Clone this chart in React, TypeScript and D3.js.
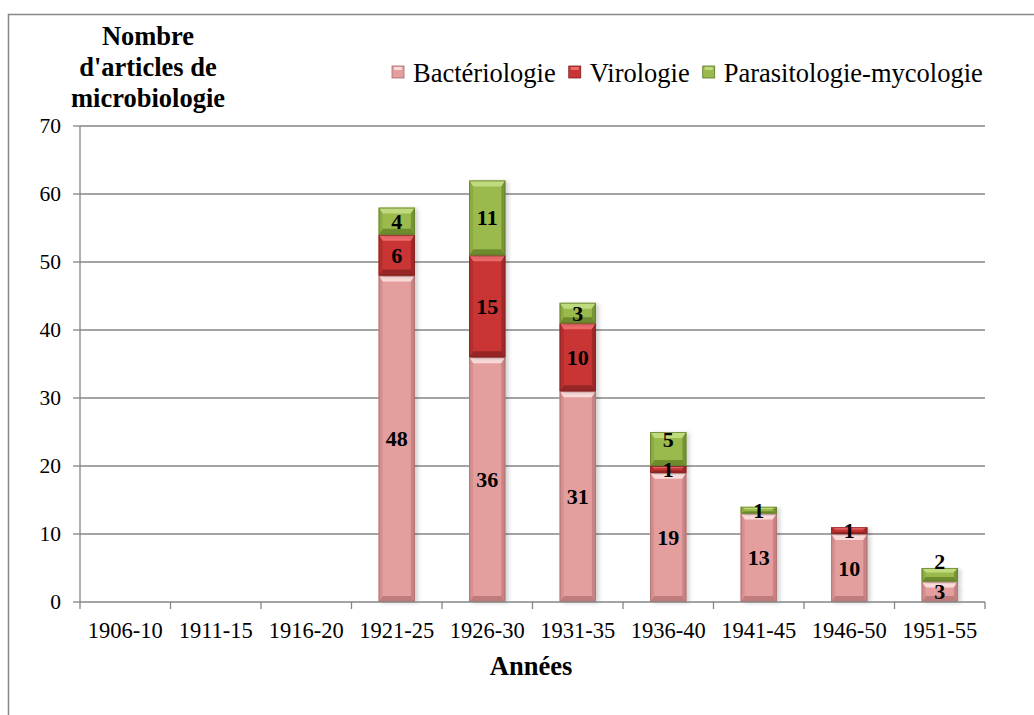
import React from "react";
import * as d3 from "d3";

const categories = ["1906-10", "1911-15", "1916-20", "1921-25", "1926-30", "1931-35", "1936-40", "1941-45", "1946-50", "1951-55"];
const bacteriologie = [0, 0, 0, 48, 36, 31, 19, 13, 10, 3];
const virologie = [0, 0, 0, 6, 15, 10, 1, 0, 1, 0];
const parasitologie = [0, 0, 0, 4, 11, 3, 5, 1, 0, 2];
const seriesNames = ["Bactériologie", "Virologie", "Parasitologie-mycologie"];
const yTicks = [0, 10, 20, 30, 40, 50, 60, 70];
const titleLines = ["Nombre", "d'articles de", "microbiologie"];

const W = 1034;
const H = 715;
const left = 80;
const right = 985;
const top = 126;
const bottom = 602;
const FONT = "Liberation Serif, DejaVu Serif, Times New Roman, serif";

const palettes = [
  { base: "#E59E9E", light: "#FBDADA", dark: "#C07C7C", side: "#D48F8F", edge: "#A86A6A" },
  { base: "#C93535", light: "#EC6A6A", dark: "#962626", side: "#B52E2E", edge: "#7E1F1F" },
  { base: "#9BBA4E", light: "#C0DA7E", dark: "#6E8C2E", side: "#8DAB44", edge: "#5D7726" },
];

function measure(text: string, font: string): number {
  const c = document.createElement("canvas").getContext("2d");
  if (!c) return text.length * 12;
  c.font = font;
  return c.measureText(text).width;
}

const txt = (extra: React.CSSProperties = {}): React.CSSProperties => ({ fontFamily: FONT, ...extra });

export default function App() {
  const x = d3.scaleBand<string>().domain(categories).range([left, right]).paddingInner(0.6).paddingOuter(0.3);
  const y = d3.scaleLinear().domain([0, 70]).range([bottom, top]);
  const step = (right - left) / categories.length;

  const rows = categories.map((c, i) => ({
    cat: c,
    b: bacteriologie[i],
    v: virologie[i],
    p: parasitologie[i],
  }));
  const stack = d3.stack<any>().keys(["b", "v", "p"])(rows);

  const legendSize = 26.5;
  const legendFont = `${legendSize}px ${FONT}`;
  let lx = 392;
  const legendItems = seriesNames.map((name, i) => {
    const item = { name, x: lx, i };
    lx += 12 + 9 + measure(name, legendFont) + 13;
    return item;
  });

  const labels: { x: number; y: number; text: string }[] = [];
  categories.forEach((c, ci) => {
    let prevY: number | null = null;
    stack.forEach((s) => {
      const d = s[ci];
      const v = d[1] - d[0];
      if (v <= 0) return;
      let cy = (y(d[0]) + y(d[1])) / 2;
      if (prevY !== null && prevY - cy < 30) cy = prevY - 30;
      labels.push({ x: (x(c) as number) + x.bandwidth() / 2, y: cy, text: String(v) });
      prevY = cy;
    });
  });

  const bw = x.bandwidth();

  return (
    <svg width={W} height={H} style={{ position: "absolute", left: 0, top: 0, background: "#fff" }}>
      <defs>
        <filter id="shadow" x="-30%" y="-10%" width="160%" height="120%">
          <feGaussianBlur stdDeviation="2" />
        </filter>
      </defs>
      <rect x={8.5} y={14.5} width={1040} height={720} fill="#fff" stroke="#878787" strokeWidth={1.5} />

      <text style={txt({ fontWeight: "bold", fontSize: 26.5 })} textAnchor="middle" fill="#000">
        {titleLines.map((t, i) => (
          <tspan key={i} x={148} y={45 + i * 31}>{t}</tspan>
        ))}
      </text>

      {legendItems.map((it) => (
        <g key={it.name}>
          <rect x={it.x} y={66} width={12} height={12} fill={palettes[it.i].base} stroke={palettes[it.i].edge} strokeWidth={0.8} />
          <rect x={it.x + 2} y={67} width={8} height={3} fill={palettes[it.i].light} />
          <text x={it.x + 21} y={82} style={txt({ fontSize: legendSize })} fill="#000">{it.name}</text>
        </g>
      ))}

      {yTicks.filter((t) => t > 0).map((t) => (
        <line key={t} x1={left} x2={right} y1={y(t)} y2={y(t)} stroke="#868686" strokeWidth={1.3} />
      ))}

      <line x1={left} x2={left} y1={top} y2={bottom} stroke="#868686" strokeWidth={1.3} />
      {yTicks.map((t) => (
        <g key={t}>
          <line x1={73} x2={left} y1={y(t)} y2={y(t)} stroke="#868686" strokeWidth={1.3} />
          <text x={61} y={y(t) + 7} textAnchor="end" style={txt({ fontSize: 21.5 })} fill="#000">{t}</text>
        </g>
      ))}

      {stack.map((s, si) =>
        s.map((d, ci) => {
          const v = d[1] - d[0];
          if (v <= 0) return null;
          const x0 = x(categories[ci]) as number;
          const y0 = y(d[1]);
          const h = y(d[0]) - y(d[1]);
          const p = palettes[si];
          const bv = Math.min(6, h / 3);
          const sv = Math.min(4, bw / 6);
          return (
            <g key={`${si}-${ci}`}>
              <rect x={x0 + 3} y={y0 + 1} width={bw} height={h} fill="#000" opacity={0.18} filter="url(#shadow)" />
              <rect x={x0} y={y0} width={bw} height={h} fill={p.base} />
              <polygon points={`${x0},${y0} ${x0 + bw},${y0} ${x0 + bw - sv},${y0 + bv} ${x0 + sv},${y0 + bv}`} fill={p.light} />
              <polygon points={`${x0},${y0 + h} ${x0 + bw},${y0 + h} ${x0 + bw - sv},${y0 + h - bv} ${x0 + sv},${y0 + h - bv}`} fill={p.dark} />
              <polygon points={`${x0},${y0} ${x0 + sv},${y0 + bv} ${x0 + sv},${y0 + h - bv} ${x0},${y0 + h}`} fill={p.side} />
              <polygon points={`${x0 + bw},${y0} ${x0 + bw - sv},${y0 + bv} ${x0 + bw - sv},${y0 + h - bv} ${x0 + bw},${y0 + h}`} fill={p.dark} opacity={0.8} />
              <rect x={x0 + 0.5} y={y0 + 0.5} width={bw - 1} height={Math.max(0, h - 1)} fill="none" stroke={p.edge} strokeWidth={1} opacity={0.7} />
            </g>
          );
        })
      )}

      <line x1={left} x2={right} y1={bottom} y2={bottom} stroke="#868686" strokeWidth={1.3} />
      {d3.range(categories.length + 1).map((i) => (
        <line key={i} x1={left + i * step} x2={left + i * step} y1={bottom} y2={bottom + 7} stroke="#868686" strokeWidth={1.3} />
      ))}
      {categories.map((c) => (
        <text key={c} x={(x(c) as number) + bw / 2} y={638} textAnchor="middle" style={txt({ fontSize: 22.5 })} fill="#000">{c}</text>
      ))}

      {labels.map((l, i) => (
        <text key={i} x={l.x} y={l.y + 7.5} textAnchor="middle" style={txt({ fontWeight: "bold", fontSize: 22 })} fill="#000">{l.text}</text>
      ))}

      <text x={531} y={675} textAnchor="middle" style={txt({ fontWeight: "bold", fontSize: 26.5 })} fill="#000">Années</text>
    </svg>
  );
}
